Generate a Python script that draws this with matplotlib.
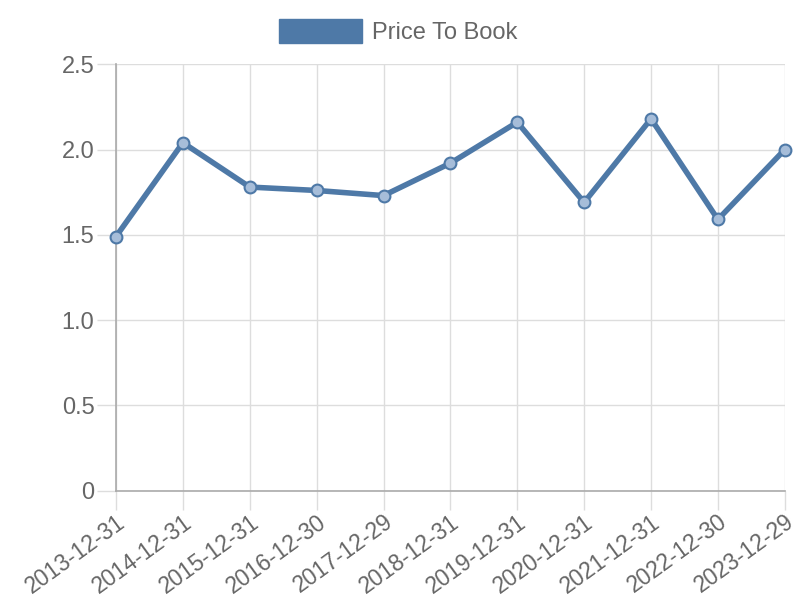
import matplotlib.pyplot as plt
from matplotlib.patches import Patch

plt.rcParams['font.family'] = ['Liberation Sans', 'DejaVu Sans']

# Datos
dates = ['2013-12-31', '2014-12-31', '2015-12-31', '2016-12-30', '2017-12-29',
         '2018-12-31', '2019-12-31', '2020-12-31', '2021-12-31', '2022-12-30',
         '2023-12-29']
price_to_book = [1.49, 2.04, 1.78, 1.76, 1.73, 1.92, 2.16, 1.69, 2.18, 1.59, 2.00]
y_ticks = [0, 0.5, 1.0, 1.5, 2.0, 2.5]
y_labels = ['0', '0.5', '1.0', '1.5', '2.0', '2.5']

line_color = '#4e79a7'
text_color = '#666666'
grid_color = '#dddddd'

fig = plt.figure(figsize=(8, 6), dpi=100)
ax = fig.add_axes([0.145, 0.182, 0.836, 0.711])

x = list(range(len(dates)))
ax.plot(x, price_to_book, color=line_color, linewidth=4, zorder=3, clip_on=False,
        marker='o', markersize=8.5, markerfacecolor=(0.65, 0.74, 0.85, 1.0),
        markeredgecolor=line_color, markeredgewidth=1.5)

ax.set_xlim(0, len(dates) - 1)
ax.set_ylim(0, 2.5)
ax.set_xticks(x)
ax.set_xticklabels(dates, rotation=36, ha='right', rotation_mode='anchor')
ax.set_yticks(y_ticks)
ax.set_yticklabels(y_labels)
ax.tick_params(axis='both', colors=grid_color, labelcolor=text_color,
               labelsize=17, length=14, width=1)
ax.tick_params(axis='y', pad=1.5)
ax.tick_params(axis='x', labelsize=16.5, pad=0)

ax.grid(True, color=grid_color, linewidth=1)
ax.set_axisbelow(True)
for side in ['top', 'right']:
    ax.spines[side].set_visible(False)
for side in ['left', 'bottom']:
    ax.spines[side].set_color('#aaaaaa')
    ax.spines[side].set_linewidth(1.2)

# Leyenda
handle = Patch(facecolor=line_color, edgecolor=line_color)
fig.legend([handle], ['Price To Book'], loc='center', bbox_to_anchor=(0.498, 0.947),
           frameon=False, fontsize=17, labelcolor=text_color,
           handlelength=3.5, handleheight=1.15, handletextpad=0.45)

fig.savefig('out.png', dpi=100)
